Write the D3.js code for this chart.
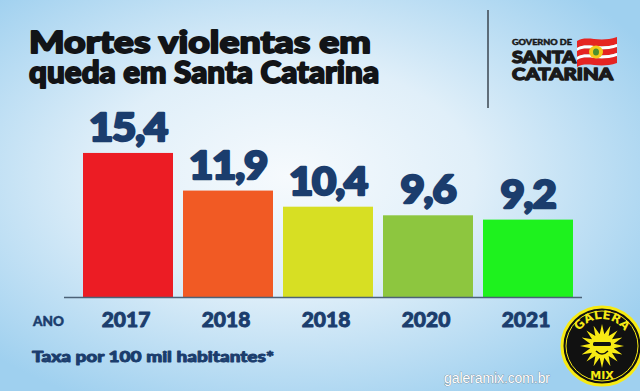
<!DOCTYPE html>
<meta charset="utf-8">
<html>
<head>
<style>
  body { margin: 0; background: #ffffff; }
  svg { display: block; }
  .big { font-family: Lato, "Noto Sans", sans-serif; font-weight: 900; paint-order: stroke; stroke-linejoin: round; }
</style>
</head>
<body>
<div id="chart"></div>
<script src="https://d3js.org/d3.v7.min.js"></script>
<script>
  // data
  var years = ["2017", "2018", "2018", "2020", "2021"];
  var rates = [15.4, 11.9, 10.4, 9.6, 9.2];
  var labels = ["15,4", "11,9", "10,4", "9,6", "9,2"];
  var barColors = ["#ec1c24", "#f15a24", "#d7df23", "#8dc63f", "#1ef21e"];

  var width = 640, height = 391;
  var navy = "#1b3d6d";

  var svg = d3.select("#chart")
    .append("svg")
      .attr("width", width)
      .attr("height", height);

  // background
  var defs = svg.append("defs");
  var bg = defs.append("radialGradient")
    .attr("id", "bg")
    .attr("cx", "45%").attr("cy", "45%").attr("r", "65%");
  bg.append("stop").attr("offset", "0%").attr("stop-color", "#f6fafd");
  bg.append("stop").attr("offset", "45%").attr("stop-color", "#e0eff9");
  bg.append("stop").attr("offset", "100%").attr("stop-color", "#9fd0ef");
  svg.append("rect")
    .attr("width", width).attr("height", height)
    .attr("fill", "url(#bg)");

  // title
  svg.append("text").attr("class", "big")
    .attr("x", 29).attr("y", 53)
    .attr("font-size", 31).attr("fill", "#121417")
    .attr("stroke", "#121417").attr("stroke-width", 1.8)
    .attr("textLength", 342).attr("lengthAdjust", "spacingAndGlyphs")
    .text("Mortes violentas em");
  svg.append("text").attr("class", "big")
    .attr("x", 29).attr("y", 83)
    .attr("font-size", 31).attr("fill", "#121417")
    .attr("stroke", "#121417").attr("stroke-width", 1.8)
    .attr("textLength", 350).attr("lengthAdjust", "spacingAndGlyphs")
    .text("queda em Santa Catarina");

  // divider
  svg.append("line")
    .attr("x1", 488).attr("x2", 488)
    .attr("y1", 10).attr("y2", 108)
    .attr("stroke", "#3b4650").attr("stroke-width", 1.5);

  // governo logo
  svg.append("text").attr("class", "big")
    .attr("x", 512).attr("y", 45)
    .attr("font-size", 6.5).attr("fill", "#1a1a1a")
    .attr("stroke", "#1a1a1a").attr("stroke-width", 0.4)
    .attr("textLength", 60).attr("lengthAdjust", "spacingAndGlyphs")
    .text("GOVERNO DE");
  svg.append("text").attr("class", "big")
    .attr("x", 512).attr("y", 63)
    .attr("font-size", 16.5).attr("fill", "#1a1a1a")
    .attr("stroke", "#1a1a1a").attr("stroke-width", 1.3)
    .attr("textLength", 64).attr("lengthAdjust", "spacingAndGlyphs")
    .text("SANTA");
  svg.append("text").attr("class", "big")
    .attr("x", 512).attr("y", 80)
    .attr("font-size", 16.5).attr("fill", "#1a1a1a")
    .attr("stroke", "#1a1a1a").attr("stroke-width", 1.3)
    .attr("textLength", 101).attr("lengthAdjust", "spacingAndGlyphs")
    .text("CATARINA");

  // flag (waving)
  var flag = svg.append("g").attr("transform", "translate(577,37)");
  var stripes = [["#e52421", 0, 7], ["#ffffff", 7, 3], ["#e52421", 10, 6], ["#ffffff", 16, 3], ["#e52421", 19, 7]];
  stripes.forEach(function(s) {
    var y0 = s[1], h = s[2];
    flag.append("path")
      .attr("fill", s[0])
      .attr("d", "M0," + (y0 + 4) + " C10," + (y0 - 2) + " 22," + (y0 + 6) + " 40," + y0 +
                 " L40," + (y0 + h) + " C22," + (y0 + h + 6) + " 10," + (y0 + h - 2) + " 0," + (y0 + h + 4) + " Z");
  });
  flag.append("ellipse").attr("cx", 19).attr("cy", 15).attr("rx", 7).attr("ry", 6.5)
    .attr("fill", "#f4c91b");
  flag.append("ellipse").attr("cx", 19).attr("cy", 15).attr("rx", 3).attr("ry", 3.5)
    .attr("fill", "#4b8f2f");

  // scales
  var x = d3.scaleBand()
    .domain(d3.range(years.length))
    .range([78, 578])
    .paddingInner(0.1)
    .paddingOuter(0.05);

  var y = d3.scaleLinear()
    .domain([2, 16])
    .range([297, 146.5]);

  // bars
  svg.selectAll(".bar")
    .data(rates)
    .enter()
    .append("rect")
      .attr("class", "bar")
      .attr("x", function(d, i) { return x(i); })
      .attr("y", function(d) { return y(d); })
      .attr("width", x.bandwidth())
      .attr("height", function(d) { return y(2) - y(d); })
      .attr("fill", function(d, i) { return barColors[i]; });

  // value labels (glyphs a bit wider than the font gives)
  svg.selectAll(".val")
    .data(rates)
    .enter()
    .append("text")
      .attr("class", "big val")
      .attr("transform", function(d, i) {
        return "translate(" + (x(i) + x.bandwidth() / 2) + "," + (y(d) - 12) + ") scale(1.1,1)";
      })
      .attr("text-anchor", "middle")
      .attr("font-size", 38)
      .attr("fill", navy)
      .attr("stroke", navy).attr("stroke-width", 2.4)
      .attr("letter-spacing", -1)
      .text(function(d, i) { return labels[i]; });

  // baseline
  svg.append("line")
    .attr("x1", 64).attr("x2", 582)
    .attr("y1", y(2) + 0.5).attr("y2", y(2) + 0.5)
    .attr("stroke", "#4c6277").attr("stroke-width", 1.5);

  // year labels
  svg.selectAll(".year")
    .data(years)
    .enter()
    .append("text")
      .attr("class", "big year")
      .attr("x", function(d, i) { return x(i) + x.bandwidth() / 2 - 2; })
      .attr("y", 327)
      .attr("text-anchor", "middle")
      .attr("font-size", 21)
      .attr("fill", navy)
      .attr("stroke", navy).attr("stroke-width", 0.9)
      .text(function(d) { return d; });

  svg.append("text").attr("class", "big")
    .attr("x", 33).attr("y", 326)
    .attr("font-size", 13.5).attr("fill", navy)
    .attr("stroke", navy).attr("stroke-width", 0.5)
    .text("ANO");

  svg.append("text").attr("class", "big")
    .attr("x", 32).attr("y", 362)
    .attr("font-size", 15.5).attr("fill", navy)
    .attr("stroke", navy).attr("stroke-width", 0.9)
    .attr("textLength", 242).attr("lengthAdjust", "spacingAndGlyphs")
    .text("Taxa por 100 mil habitantes*");

  // watermark
  svg.append("text")
    .attr("x", 444).attr("y", 383)
    .attr("font-family", "'Liberation Sans', Arial, sans-serif")
    .attr("font-size", 14)
    .attr("fill", "#ffffff")
    .attr("stroke", "#6b7680").attr("stroke-width", 0.6)
    .attr("paint-order", "stroke")
    .attr("textLength", 106)
    .text("galeramix.com.br");

  var logo = svg.append("g").attr("transform", "translate(602,346)");
  logo.append("ellipse").attr("rx", 40).attr("ry", 39)
    .attr("fill", "#111").attr("stroke", "#f7ea14").attr("stroke-width", 3);
  logo.append("ellipse").attr("rx", 36).attr("ry", 35)
    .attr("fill", "none").attr("stroke", "#f7ea14").attr("stroke-width", 1);
  var spikes = d3.range(32).map(function(i) {
    return [i * Math.PI / 16, i % 2 ? 12 : 22];
  });
  logo.append("path")
    .attr("d", d3.lineRadial().curve(d3.curveLinearClosed)(spikes))
    .attr("fill", "#f7ea14");
  logo.append("rect").attr("x", -9).attr("y", -4).attr("width", 18).attr("height", 4)
    .attr("rx", 1.5).attr("fill", "#111");
  logo.append("path").attr("d", "M-6,5 Q0,11 6,5")
    .attr("fill", "none").attr("stroke", "#111").attr("stroke-width", 1.5);
  defs.append("path").attr("id", "arcTop")
    .attr("d", "M-27,0 A27,27 0 0,1 27,0");
  logo.append("text")
    .attr("font-family", "'DejaVu Sans', sans-serif").attr("font-weight", "bold")
    .attr("font-size", 12).attr("fill", "#f7ea14")
    .append("textPath")
      .attr("href", "#arcTop")
      .attr("startOffset", "50%")
      .attr("text-anchor", "middle")
      .text("GALERA");
  logo.append("text")
    .attr("y", 33)
    .attr("text-anchor", "middle")
    .attr("font-family", "'DejaVu Sans', sans-serif").attr("font-weight", "bold")
    .attr("font-size", 11).attr("fill", "#f7ea14")
    .text("MIX");
</script>
</body>
</html>
